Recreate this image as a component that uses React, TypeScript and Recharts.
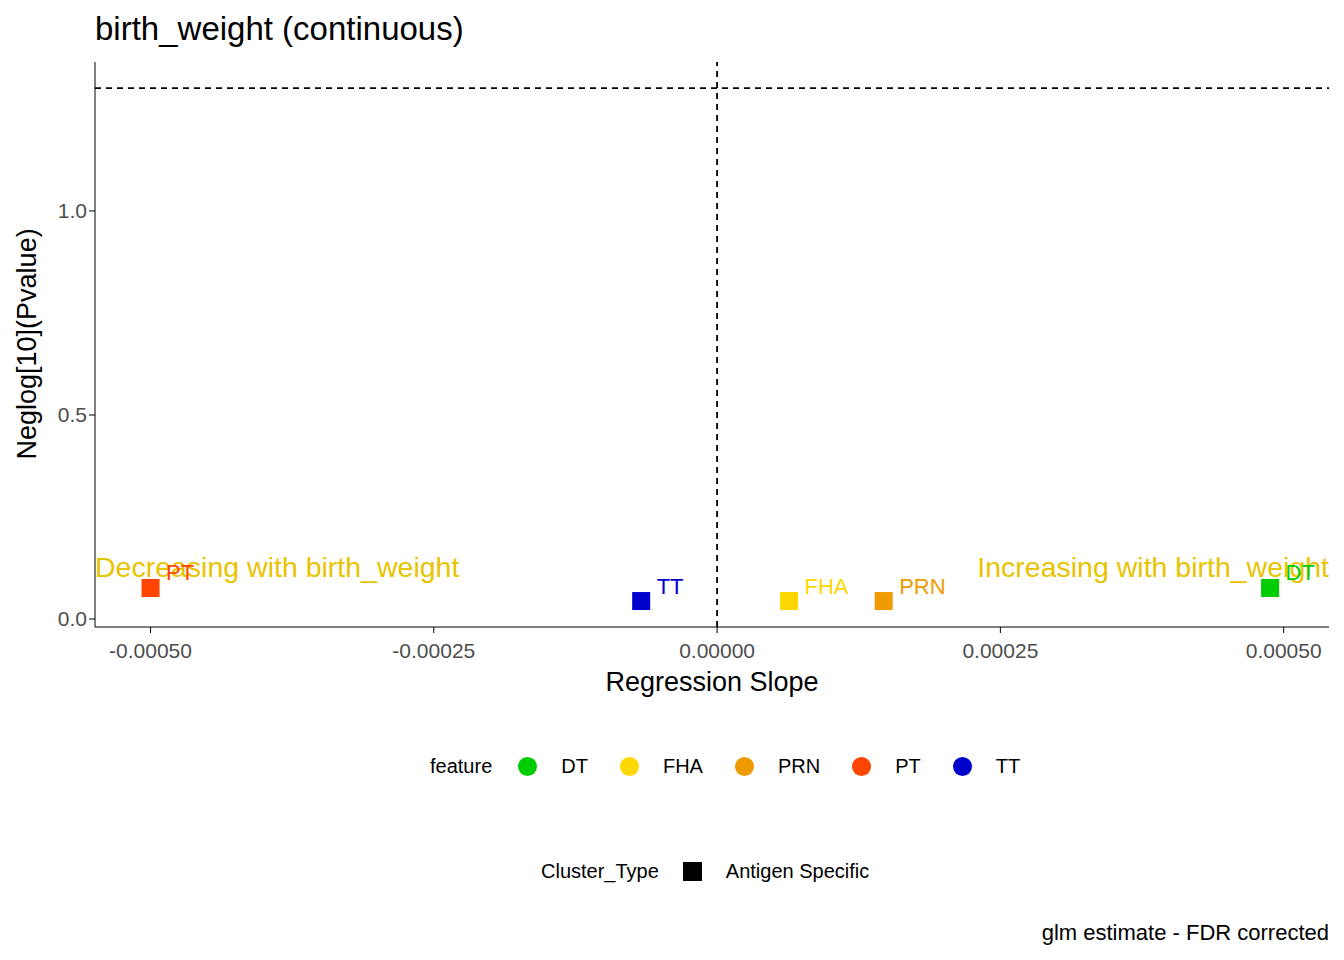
import React from "react";
import {
  ScatterChart,
  Scatter,
  XAxis,
  YAxis,
  ReferenceLine,
  ReferenceDot,
  LabelList,
} from "recharts";

const features = ["DT", "FHA", "PRN", "PT", "TT"];
const colors = ["#00CD00", "#FFD700", "#EE9A00", "#FF4500", "#0000CD"];
const slopes = [0.000488, 0.0000635, 0.000147, -0.0005, -0.000067];
const negLogP = [0.076, 0.044, 0.044, 0.076, 0.044];
const xTicks = [-0.0005, -0.00025, 0, 0.00025, 0.0005];
const yTicks = [0, 0.5, 1.0];

const font = "'Liberation Sans', Arial, sans-serif";

const Square = (props: any) => (
  <rect x={props.cx - 9} y={props.cy - 9} width={18} height={18} fill={props.fill} />
);

const PointLabel = (color: string) => (props: any) => (
  <text x={props.x + 20} y={props.y - 3} fill={color} fontSize={22} fontFamily={font}>
    {props.value}
  </text>
);

const Note = (anchor: "start" | "end", text: string) => (props: any) => (
  <text
    x={props.viewBox.x}
    y={props.viewBox.y + 10}
    textAnchor={anchor}
    fill="#E8C300"
    fontSize={28.5}
    fontFamily={font}
  >
    {text}
  </text>
);

export default function App() {
  return (
    <div style={{ position: "absolute", left: 0, top: 0, width: 1344, height: 960, background: "#fff", fontFamily: font }}>
      <ScatterChart width={1344} height={960} margin={{ top: 62, left: 35, right: 15, bottom: 273 }}>
        <XAxis
          type="number"
          dataKey="x"
          domain={[-0.000549, 0.00054]}
          ticks={xTicks}
          tickFormatter={(v: number) => v.toFixed(5)}
          allowDataOverflow
          height={60}
          stroke="#000"
          tick={{ fill: "#4D4D4D", fontSize: 21, dy: 8 }}
          tickSize={6}
          label={{ value: "Regression Slope", position: "insideBottom", offset: -4, fill: "#000", fontSize: 27 }}
        />
        <YAxis
          type="number"
          dataKey="y"
          domain={[-0.0196, 1.365]}
          ticks={yTicks}
          tickFormatter={(v: number) => v.toFixed(1)}
          allowDataOverflow
          width={60}
          stroke="#000"
          tick={{ fill: "#4D4D4D", fontSize: 21 }}
          tickSize={6}
          label={{ value: "Neglog[10](Pvalue)", angle: -90, position: "insideLeft", dx: -14, dy: 115, fill: "#000", fontSize: 27 }}
        />
        <ReferenceLine y={1.301} stroke="#000" strokeDasharray="6 5" strokeWidth={1.8} />
        <ReferenceLine x={0} stroke="#000" strokeDasharray="6 5" strokeWidth={1.8} />
        {features.map((f, i) => (
          <Scatter
            key={f}
            name={f}
            data={[{ x: slopes[i], y: negLogP[i], name: f }]}
            fill={colors[i]}
            shape={Square}
            isAnimationActive={false}
          >
            <LabelList dataKey="name" content={PointLabel(colors[i])} />
          </Scatter>
        ))}
        <ReferenceDot x={-0.000549} y={0.127} r={0} label={Note("start", "Decreasing with birth_weight")} />
        <ReferenceDot x={0.00054} y={0.127} r={0} label={Note("end", "Increasing with birth_weight")} />
      </ScatterChart>
      <div style={{ position: "absolute", left: 95, top: 10, fontSize: 33 }}>birth_weight (continuous)</div>
      <div style={{ position: "absolute", left: 430, top: 755, display: "flex", alignItems: "center", fontSize: 20 }}>
        <span style={{ marginRight: 26 }}>feature</span>
        {features.map((f, i) => (
          <span key={f} style={{ display: "flex", alignItems: "center", marginRight: 32 }}>
            <span style={{ width: 19, height: 19, borderRadius: 10, background: colors[i], marginRight: 24, display: "inline-block" }} />
            {f}
          </span>
        ))}
      </div>
      <div style={{ position: "absolute", left: 541, top: 860, display: "flex", alignItems: "center", fontSize: 20 }}>
        <span style={{ marginRight: 24 }}>Cluster_Type</span>
        <span style={{ width: 19, height: 19, background: "#000", marginRight: 24, display: "inline-block" }} />
        Antigen Specific
      </div>
      <div style={{ position: "absolute", right: 15, top: 920, fontSize: 22 }}>glm estimate - FDR corrected</div>
    </div>
  );
}
